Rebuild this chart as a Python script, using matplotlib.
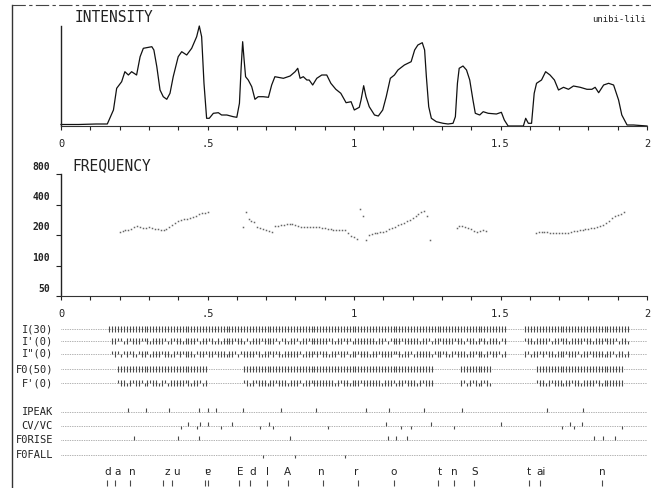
import numpy as np
import matplotlib
matplotlib.use("Agg")
import matplotlib.pyplot as plt
from matplotlib.lines import Line2D
from matplotlib.ticker import MultipleLocator, NullLocator
from matplotlib.transforms import blended_transform_factory, offset_copy

# -------------------- data --------------------
# intensity envelope: time (s) / relative level (0..100)
int_t = [0.00, 0.06, 0.12, 0.158, 0.179, 0.190, 0.207, 0.218, 0.230, 0.241,
         0.258, 0.270, 0.281, 0.310, 0.317, 0.327, 0.338, 0.349, 0.361, 0.372,
         0.383, 0.400, 0.412, 0.429, 0.446, 0.463, 0.472, 0.480, 0.488, 0.497,
         0.506, 0.520, 0.537, 0.548, 0.566, 0.588, 0.600, 0.609, 0.615, 0.620,
         0.625, 0.630, 0.639, 0.651, 0.662, 0.673, 0.690, 0.708, 0.719, 0.730,
         0.759, 0.782, 0.799, 0.808, 0.816, 0.827, 0.839, 0.847, 0.859, 0.873,
         0.890, 0.907, 0.921, 0.938, 0.955, 0.973, 0.990, 1.001, 1.018, 1.024,
         1.033, 1.041, 1.052, 1.070, 1.083, 1.098, 1.110, 1.124, 1.138, 1.150,
         1.172, 1.195, 1.207, 1.218, 1.233, 1.241, 1.247, 1.255, 1.264, 1.281,
         1.304, 1.321, 1.338, 1.346, 1.353, 1.359, 1.372, 1.384, 1.395, 1.406,
         1.414, 1.429, 1.441, 1.458, 1.486, 1.503, 1.513, 1.526, 1.578, 1.586,
         1.595, 1.606, 1.615, 1.623, 1.640, 1.654, 1.669, 1.684, 1.698, 1.715,
         1.732, 1.749, 1.772, 1.795, 1.812, 1.823, 1.835, 1.852, 1.869, 1.886,
         1.903, 1.914, 1.932, 1.954, 2.000]
int_v = [1.5, 1.5, 2, 2, 16, 37.7, 44.3, 54.3, 51, 54.3,
         51, 69.3, 77.7, 79.3, 76, 59.3, 36, 29.3, 26.7, 32.7,
         49.3, 69.3, 74.3, 71, 77.7, 89.3, 100, 89.3, 42.7, 7.7,
         7.7, 12.7, 13.3, 11, 11, 9.3, 8.7, 22.7, 59.3, 84.3,
         66, 49.3, 46, 39.3, 26.7, 29.3, 29.3, 28.7, 41, 49.3,
         47.7, 50, 54.3, 57.7, 47.7, 49.3, 46, 46, 41, 47.7,
         51, 51, 42.7, 36.7, 32.7, 23.3, 24.3, 16, 18.7, 26,
         40.3, 29.3, 19.3, 11, 10, 16, 29.3, 47.7, 51, 56,
         61, 64.3, 76, 81, 83.3, 76, 49.3, 19.3, 7.7, 4.3,
         2.7, 2, 2.7, 9.3, 42.7, 57.7, 60, 56, 46, 26,
         12.7, 11, 14.3, 12.7, 12, 13.7, 6, 0, 0, 7.7,
         2.7, 2.7, 32.7, 42.7, 46, 54.3, 51, 46, 36, 38.7,
         36.7, 40, 38.7, 36.7, 36.7, 38.7, 33.3, 41, 42.7, 41,
         26, 11, 1, 1, 0]

# F0 (Hz), 10 ms frames, one list per voiced stretch
frame = 0.01
f0_start = [0.20, 0.62, 1.35, 1.62]
f0_seg1 = [215, 218, 222, 226, 228, 240, 245, 238, 234, 236,
           238, 232, 230, 230, 226, 222, 230, 240, 252, 264,
           272, 280, 286, 290, 294, 300, 310, 322, 328, 332, 335]
f0_seg2 = [240, 335, 285, 278, 268, 240, 232, 228, 225, 220,
           215, 245, 248, 250, 252, 254, 256, 254, 250, 246,
           242, 240, 240, 240, 241, 240, 238, 236, 232, 228,
           228, 226, 226, 224, 224, 222, 210, 195, 190, 182,
           358, 307, 180, 200, 205, 208, 210, 212, 216, 220,
           228, 236, 242, 250, 256, 262, 272, 282, 294, 305,
           320, 335, 348, 305, 178]
f0_seg3 = [235, 245, 244, 241, 235, 227, 220, 215, 218, 224, 220]
f0_seg4 = [210, 212, 215, 213, 212, 210, 209, 208, 207, 208,
           209, 211, 214, 218, 221, 224, 226, 228, 230, 232,
           236, 240, 246, 252, 262, 277, 292, 305, 316, 326, 335]
f0_segs = [f0_seg1, f0_seg2, f0_seg3, f0_seg4]

# feature rows, one char per 10 ms frame: '.' off, 'T' full mark, 'u' upper, 'd' lower
row_names = ["I(30)", "I'(0)", 'I"(0)', "F0(50)", "F'(0)"]
row_i30 = '.' * 16 + 'T' * 136 + '.' * 6 + 'T' * 36 + '.' * 6
row_i1 = ('.' * 17 +
          "TTuudTuTTT" "uuTdTTTTud" "TuTTdTTTTu" "dTTuTdTdTT" "TTuTTdudTT"
          "TuTTTTuduT" "dTTudTTuTT" "TTTTuTdTTu" "TudTTTTTTT" "dTTuduTTTu"
          "TTTTTdTTud" "TTuTTTTuTT" "duTTdTuTdT" "TTduT" +
          '.' * 6 +
          "uTTdTTTTud" "TTuTTdTTTT" "uTTdTTTuTT" "TudTTd" +
          '.' * 6)
row_i2 = ('.' * 17 +
          "uTuduTuTdu" "TTudTTTuTT" "dTuTuTTTdu" "TTuTTuTTTd" "TTuduTTTTu"
          "TdTTuTuTdT" "TTTTudTTTu" "TuTTdTTuTT" "udTTuTTTdT" "TuTTTTuuTd"
          "TTudTTTTTd" "uTTuTdTuTT" "TdTTuTTdTu" "TTudT" +
          '.' * 6 +
          "TudTTuTuTT" "dTTTuTTTud" "TTuTTTTdTT" "udTTdT" +
          '.' * 6)
row_f0 = ('.' * 19 + 'T' * 31 + '.' * 12 + 'T' * 65 + '.' * 9 + 'T' * 11 +
          '.' * 15 + 'T' * 30 + '.' * 8)
row_f1 = ('.' * 19 +
          "uTTdTuTTud" "TuTTdTudTT" "TTTuTdTTud" "T" +
          '.' * 12 +
          "uTdTuTTTdT" "TuTTTdTTTu" "dTTuTTTTTT" "TdTuTTdTTT" "uTTTTTTdTT"
          "TudTTuTTTd" "TuTTT" +
          '.' * 9 +
          "TudTuTdTuTd" +
          '.' * 15 +
          "uTTdTuTTTd" "TTuTTdTTTT" "uTdTTTTTTT" +
          '.' * 8)
rows = [row_i30, row_i1, row_i2, row_f0, row_f1]

# event rows (s)
ev_names = ["IPEAK", "CV/VC", "F0RISE", "F0FALL"]
ipeak_up = [0.23, 0.29, 0.37, 0.47, 0.50, 0.53, 0.62, 0.75, 0.87, 1.04,
            1.12, 1.24, 1.37, 1.66, 1.78]
cv_up = [0.435, 0.475, 0.50, 0.585, 0.71, 1.11, 1.264, 1.503, 1.737, 1.777]
cv_down = [0.41, 0.465, 0.545, 0.68, 0.725, 0.91, 1.16, 1.195, 1.34, 1.71,
           1.75, 1.914]
rise_up = [0.25, 0.40, 0.47, 0.78, 1.115, 1.145, 1.18, 1.82, 1.85, 1.89]
fall_down = [0.69, 0.80, 0.97]
ev_up = [ipeak_up, cv_up, rise_up, []]
ev_down = [[], cv_down, [], fall_down]

# segment labels
seg_labels = ["d", "a", "n", "z", "u", "ɐ", "E", "d", "I", "A", "n",
              "r", "o", "t", "n", "S", "t", "ai", "n"]
seg_t = [0.161, 0.192, 0.243, 0.363, 0.394, 0.500, 0.613, 0.654, 0.705, 0.774,
         0.887, 1.007, 1.134, 1.291, 1.342, 1.411, 1.596, 1.640, 1.846]
seg_marks = [0.158, 0.185, 0.236, 0.349, 0.380, 0.493, 0.503, 0.606, 0.644,
             0.702, 0.774, 0.894, 1.014, 1.137, 1.288, 1.342, 1.411, 1.596,
             1.634, 1.846]

time_ticks = [0, 0.5, 1, 1.5, 2]
time_ticklabels = ["0", ".5", "1", "1.5", "2"]
freq_ticks = [50, 100, 200, 400, 800]

# -------------------- layout --------------------
plt.rcParams['font.family'] = ['DejaVu Sans Mono', 'DejaVu Sans']
W, H = 651, 488
ink = '#222222'
mark = '#4a4a4a'


def fx(px):
    return px / W


def fy(py):
    return 1 - py / H


fig = plt.figure(figsize=(W / 100, H / 100), dpi=100)
x0, x1 = 61, 647
ax_i = fig.add_axes([fx(x0), fy(126), (x1 - x0) / W, 100 / H])
ax_f = fig.add_axes([fx(x0), fy(296), (x1 - x0) / W, 122 / H])
ax_r = fig.add_axes([fx(x0), 0, (x1 - x0) / W, (488 - 316) / H])

for ax in (ax_i, ax_f):
    ax.spines['top'].set_visible(False)
    ax.spines['right'].set_visible(False)
    ax.spines['left'].set_color(ink)
    ax.spines['bottom'].set_color('#333333')
    ax.spines['left'].set_linewidth(1.0)
    ax.spines['bottom'].set_linewidth(0.8)
    ax.set_xlim(0, 2)
    ax.set_xticks(time_ticks)
    ax.set_xticklabels(time_ticklabels, fontsize=7.5, color=ink)
    ax.xaxis.set_minor_locator(MultipleLocator(0.1))
    ax.tick_params(axis='x', which='both', length=3, width=0.8, color=ink,
                   pad=6.5)
    ax.patch.set_alpha(0)

# intensity
ax_i.plot(int_t, int_v, color='#111111', lw=0.9, clip_on=False)
ax_i.set_ylim(0, 100)
ax_i.set_yticks([])

# frequency
for start, seg in zip(f0_start, f0_segs):
    t = [start + k * frame for k in range(len(seg))]
    ax_f.plot(t, seg, ls='none', marker='s', ms=1.1, mew=0, color='#666666')
ax_f.set_yscale('log')
ax_f.set_ylim(50, 800)
ax_f.set_yticks(freq_ticks)
ax_f.set_yticklabels([])
ax_f.yaxis.set_minor_locator(NullLocator())
ax_f.tick_params(axis='y', length=3.5, width=0.8, color=ink)
ylab_tr = offset_copy(blended_transform_factory(fig.transFigure, ax_f.transData),
                      fig=fig, y=5.4, units='points')
for f in freq_ticks:
    ax_f.text(fx(50), f, str(f), transform=ylab_tr, ha='right', va='center',
              fontsize=7, color=ink, fontweight='bold')

# titles
fig.text(fx(75), fy(17), "INTENSITY", ha='left', va='center', fontsize=10.5,
         color=ink)
fig.text(fx(72), fy(166), "FREQUENCY", ha='left', va='center', fontsize=10.5,
         color=ink)
fig.text(fx(646), fy(20), "unibi-lili", ha='right', va='center', fontsize=6.5,
         color=ink)

# feature rows
ax_r.set_xlim(0, 2)
ax_r.set_ylim(488, 316)
ax_r.axis('off')
lab_tr = blended_transform_factory(fig.transFigure, ax_r.transData)
row_y = [329, 341, 354, 369, 383]
for name, codes, y in zip(row_names, rows, row_y):
    ax_r.plot([0, 2], [y, y], ls=(0, (1, 1.5)), lw=0.5, color='#666666')
    full = [i * frame + frame / 2 for i, c in enumerate(codes) if c == 'T']
    up = [i * frame + frame / 2 for i, c in enumerate(codes) if c == 'u']
    down = [i * frame + frame / 2 for i, c in enumerate(codes) if c == 'd']
    ax_r.vlines(full, y - 3, y + 2.5, lw=0.8, color=mark)
    ax_r.vlines(up, y - 3, y, lw=0.8, color=mark)
    ax_r.vlines(down, y - 0.5, y + 2.5, lw=0.8, color=mark)
    ax_r.text(fx(53), y, name, transform=lab_tr, ha='right', va='center',
              fontsize=7.5, color=ink)

ev_y = [412, 426, 440, 455]
for name, ups, downs, y in zip(ev_names, ev_up, ev_down, ev_y):
    ax_r.plot([0, 2], [y, y], ls=(0, (1, 1.5)), lw=0.5, color='#666666')
    ax_r.vlines(ups, y - 4, y, lw=0.8, color=mark)
    ax_r.vlines(downs, y, y + 3, lw=0.8, color=mark)
    ax_r.text(fx(53), y, name, transform=lab_tr, ha='right', va='center',
              fontsize=7.5, color=ink)

for s, t in zip(seg_labels, seg_t):
    ax_r.text(t, 472, s, ha='center', va='center', fontsize=7.5,
              family='DejaVu Sans', color=ink)
ax_r.vlines(seg_marks, 480, 486, lw=0.8, color=mark)

# page frame
fig.add_artist(Line2D([fx(12), fx(12)], [0, fy(5)], transform=fig.transFigure,
                      lw=1.0, color='#333333'))
fig.add_artist(Line2D([fx(12), 1], [fy(5), fy(5)], transform=fig.transFigure,
                      lw=0.8, color='#444444', ls=(0, (12, 3, 3, 3))))

fig.savefig("out.png", dpi=100)
